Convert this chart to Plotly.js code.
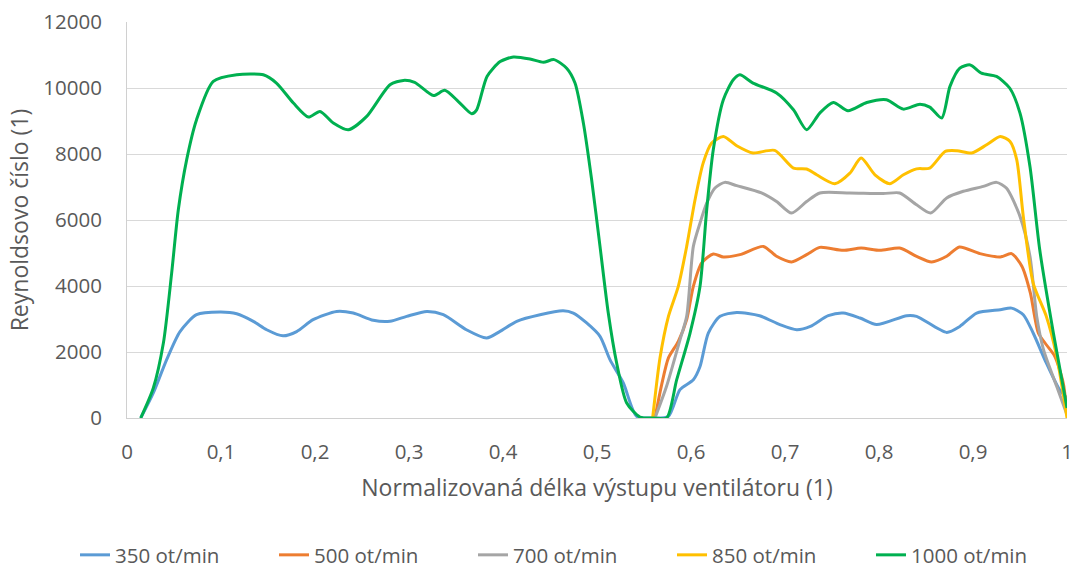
<!DOCTYPE html>
<html>
<head>
<meta charset="utf-8">
<script src="https://cdn.plot.ly/plotly-3.0.1.min.js"></script>
<style>
  html, body { margin: 0; padding: 0; background: #ffffff; }
  #chart { width: 1075px; height: 568px; }
</style>
</head>
<body>
<div id="chart"></div>
<script>
// Reynoldsovo číslo podél normalizované délky výstupu ventilátoru pro pět otáček
const seriesNames = ['350 ot/min', '500 ot/min', '700 ot/min', '850 ot/min', '1000 ot/min'];
const seriesColors = ['#5B9BD5', '#ED7D31', '#A5A5A5', '#FFC000', '#00B050'];

const x350 = [0.0146,0.028,0.0422,0.0564,0.074,0.099,0.1167,0.1344,0.1486,0.166,0.1805,0.198,0.223,0.2407,0.262,0.2798,0.2975,0.319,0.3365,0.361,0.3826,0.3968,0.4146,0.4394,0.464,0.4748,0.489,0.5032,0.5138,0.528,0.5422,0.56,0.576,0.5883,0.6025,0.6096,0.6184,0.6309,0.6486,0.673,0.6946,0.7124,0.727,0.746,0.762,0.7798,0.7975,0.8295,0.84,0.872,0.886,0.9039,0.929,0.941,0.9535,0.964,0.978,0.992,1.0];
const re350 = [0,760,1770,2620,3130,3210,3160,2930,2675,2490,2620,2980,3230,3180,2960,2930,3080,3230,3130,2675,2424,2625,2930,3130,3250,3180,2880,2475,1770,1060,50,0,50,860,1160,1560,2575,3080,3200,3100,2830,2675,2775,3100,3180,3030,2830,3100,3080,2594,2775,3180,3280,3330,3130,2575,1667,860,600];

const x500 = [0.5617,0.5688,0.576,0.5865,0.5954,0.6025,0.6114,0.6237,0.6344,0.652,0.677,0.691,0.707,0.723,0.737,0.762,0.781,0.801,0.822,0.84,0.856,0.872,0.8855,0.9074,0.929,0.941,0.952,0.961,0.9695,0.978,0.987,0.996,1.0];
const re500 = [0,1010,1820,2320,2980,3990,4700,4970,4880,4950,5200,4900,4730,4950,5170,5080,5150,5080,5150,4900,4730,4900,5180,4980,4880,4980,4600,3790,2575,2220,1870,1060,100];

const x700 = [0.5617,0.574,0.5883,0.5954,0.6025,0.6096,0.6167,0.6255,0.636,0.6486,0.675,0.691,0.707,0.723,0.737,0.769,0.8045,0.822,0.84,0.855,0.872,0.8897,0.911,0.925,0.9355,0.95,0.9606,0.9678,0.975,0.989,1.0];
const re700 = [0,960,2370,3080,5200,5910,6510,6970,7140,7040,6820,6560,6210,6560,6820,6820,6800,6820,6460,6210,6670,6870,7020,7140,6970,6110,4900,3080,2070,960,100];

const x850 = [0.5592,0.567,0.576,0.5865,0.5954,0.6043,0.613,0.622,0.6344,0.6486,0.666,0.689,0.709,0.723,0.7337,0.753,0.769,0.781,0.7957,0.8117,0.826,0.84,0.854,0.8705,0.883,0.8986,0.9145,0.929,0.9394,0.9465,0.9535,0.964,0.978,0.989,1.0];
const re850 = [0,1820,3080,3990,5200,6615,7730,8330,8530,8250,8030,8110,7575,7545,7370,7100,7420,7880,7370,7100,7370,7550,7575,8080,8100,8030,8280,8530,8380,7830,6110,4090,3080,1870,0];

const x1000 = [0.0146,0.028,0.0387,0.0475,0.0546,0.0635,0.074,0.0918,0.1167,0.145,0.159,0.177,0.193,0.2053,0.2195,0.2355,0.255,0.2798,0.294,0.306,0.326,0.338,0.3525,0.3667,0.372,0.383,0.397,0.411,0.4287,0.4429,0.4543,0.4677,0.4766,0.4855,0.4943,0.5032,0.512,0.5209,0.5316,0.5457,0.56,0.574,0.5848,0.599,0.6096,0.6167,0.6237,0.6344,0.645,0.652,0.666,0.691,0.709,0.723,0.737,0.7514,0.767,0.787,0.808,0.826,0.8436,0.854,0.8667,0.8755,0.886,0.897,0.909,0.925,0.939,0.95,0.9606,0.971,0.9855,1.0];
const re1000 = [0,909,2270,4390,6310,7830,9040,10200,10400,10400,10150,9545,9120,9290,8940,8735,9140,10100,10230,10170,9770,9930,9590,9220,9340,10350,10800,10940,10880,10780,10860,10600,10150,8940,7220,5200,3180,1667,455,30,0,0,1160,2575,3990,6310,8130,9645,10250,10400,10150,9850,9340,8735,9240,9560,9310,9560,9645,9360,9510,9420,9090,10050,10600,10700,10450,10350,10000,9240,7620,5100,2575,300];

const xs = [x350, x500, x700, x850, x1000];
const ys = [re350, re500, re700, re850, re1000];

const FONT = 'Open Sans, sans-serif';
const TXT = '#595959';

const traces = seriesNames.map((name, i) => ({
  type: 'scatter',
  mode: 'lines',
  name: name,
  x: xs[i],
  y: ys[i],
  line: { color: seriesColors[i], width: 3, shape: 'spline', smoothing: 0.7 },
  hoverinfo: 'x+y+name'
}));

const layout = {
  width: 1075,
  height: 568,
  margin: { l: 127, r: 8, t: 22, b: 150, autoexpand: false },
  paper_bgcolor: '#ffffff',
  plot_bgcolor: '#ffffff',
  separators: ', ',
  font: { family: FONT, color: TXT, size: 20 },
  showlegend: true,
  legend: {
    orientation: 'h',
    x: -0.0553, xanchor: 'left',
    y: -0.346, yanchor: 'middle',
    font: { family: FONT, size: 20.5, color: TXT },
    entrywidth: 154,
    entrywidthmode: 'pixels',
    traceorder: 'normal',
    bgcolor: 'rgba(0,0,0,0)'
  },
  xaxis: {
    range: [0, 1],
    dtick: 0.1,
    tick0: 0,
    showgrid: false,
    zeroline: false,
    showline: true,
    linecolor: '#d0d0d0',
    linewidth: 1,
    ticks: '',
    ticklabelstandoff: 15,
    tickfont: { family: FONT, size: 20.5, color: TXT },
    title: { text: 'Normalizovaná délka výstupu ventilátoru (1)', font: { family: FONT, size: 23, color: TXT }, standoff: 16 }
  },
  yaxis: {
    range: [0, 12000],
    dtick: 2000,
    tickformat: 'd',
    showgrid: true,
    gridcolor: '#d9d9d9',
    gridwidth: 1,
    zeroline: false,
    showline: true,
    linecolor: '#d0d0d0',
    linewidth: 1,
    ticks: '',
    ticklabelstandoff: 20,
    tickfont: { family: FONT, size: 20.5, color: TXT },
    title: { text: 'Reynoldsovo číslo (1)', font: { family: FONT, size: 23, color: TXT }, standoff: 8 }
  }
};

Plotly.newPlot('chart', traces, layout, { displayModeBar: false, staticPlot: true });
</script>
</body>
</html>
